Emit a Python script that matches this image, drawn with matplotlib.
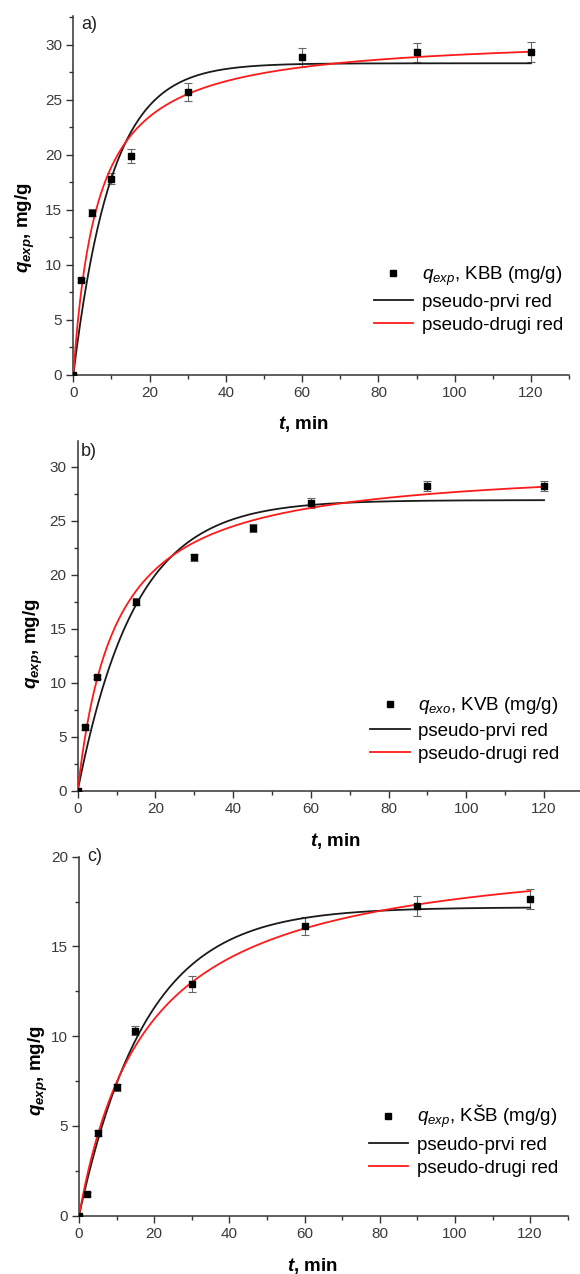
import numpy as np
import matplotlib
matplotlib.use("Agg")
import matplotlib.pyplot as plt
from matplotlib.ticker import MultipleLocator

plt.rcParams['font.family'] = ['Liberation Sans', 'DejaVu Sans']
plt.rcParams['mathtext.fontset'] = 'custom'
plt.rcParams['mathtext.rm'] = 'Liberation Sans'
plt.rcParams['mathtext.it'] = 'Liberation Sans:italic'
plt.rcParams['mathtext.bf'] = 'Liberation Sans:bold'
plt.rcParams['mathtext.bfit'] = 'Liberation Sans:bold:italic'

# time points (min)
t_a = [0, 2, 5, 10, 15, 30, 60, 90, 120]
t_b = [0, 2, 5, 15, 30, 45, 60, 90, 120]
t_c = [0, 2, 5, 10, 15, 30, 60, 90, 120]

# experimental q (mg/g) and error bars
q_a = [0, 8.6, 14.75, 17.8, 19.9, 25.7, 28.85, 29.3, 29.35]
err_a = [0, 0.2, 0.3, 0.5, 0.65, 0.8, 0.85, 0.85, 0.9]
q_b = [0, 5.85, 10.5, 17.5, 21.6, 24.3, 26.6, 28.2, 28.2]
err_b = [0, 0.2, 0.2, 0.3, 0.35, 0.4, 0.45, 0.5, 0.5]
q_c = [0, 1.2, 4.6, 7.15, 10.3, 12.9, 16.15, 17.25, 17.65]
err_c = [0, 0.1, 0.15, 0.2, 0.25, 0.45, 0.5, 0.55, 0.55]

# fitted kinetic parameters
qe1 = [28.3, 26.9, 17.18]        # pseudo-first order qe
k1 = [0.10, 0.068, 0.056]        # 1/min
qe2 = [30.9, 30.4, 20.8]         # pseudo-second order qe
k2 = [0.0051, 0.0034, 0.00267]   # g/(mg min)

names = ['KBB', 'KVB', 'KŠB']
subs = ['exp', 'exo', 'exp']
letters = ['a)', 'b)', 'c)']
ylims = [32.6, 32.4, 20]
ymajor = [5, 5, 5]

# axes rectangles in figure fractions
rects = [[0.1264, 0.7057, 0.8548, 0.2818],
         [0.1340, 0.3794, 0.8710, 0.2747],
         [0.1362, 0.0458, 0.8426, 0.2818]]
ylab_pos = [(-0.073, 0.41), (-0.065, 0.42), (-0.060, 0.405)]
xlab_pos = [(0.465, -0.109), (0.51, -0.115), (0.478, -0.112)]
leg_pos = [(0.606, 0.308), (0.579, 0.272), (0.593, 0.313)]
let_pos = [(0.016, 0.975), (0.007, 0.969), (0.016, 1.0)]

t_all = [t_a, t_b, t_c]
q_all = [q_a, q_b, q_c]
e_all = [err_a, err_b, err_c]

fig = plt.figure(figsize=(5.8, 12.74), dpi=100)
tt = np.linspace(0, 120, 400)

for i in range(3):
    ax = fig.add_axes(rects[i])
    ax.errorbar(t_all[i], q_all[i], yerr=e_all[i], fmt='none', ecolor='#666666',
                elinewidth=0.8, capsize=3, capthick=0.8, zorder=2)
    ax.plot(t_all[i], q_all[i], 's', color='black', markersize=5, zorder=4,
            label=r'$q_{%s}$, %s (mg/g)' % (subs[i], names[i]))
    pfo = qe1[i] * (1 - np.exp(-k1[i] * tt))
    pso = qe2[i] ** 2 * k2[i] * tt / (1 + qe2[i] * k2[i] * tt)
    ax.plot(tt, pfo, color='#1a1a1a', lw=1.3, zorder=3, label='pseudo-prvi red')
    ax.plot(tt, pso, color='#ff1a1a', lw=1.3, zorder=3, label='pseudo-drugi red')

    ax.set_xlim(0, 130)
    ax.set_ylim(0, ylims[i])
    ax.xaxis.set_major_locator(MultipleLocator(20))
    ax.xaxis.set_minor_locator(MultipleLocator(10))
    ax.yaxis.set_major_locator(MultipleLocator(ymajor[i]))
    ax.yaxis.set_minor_locator(MultipleLocator(ymajor[i] / 2))
    for s in ['top', 'right']:
        ax.spines[s].set_visible(False)
    for s in ['left', 'bottom']:
        ax.spines[s].set_color('#333333')
        ax.spines[s].set_linewidth(1.1)
    ax.tick_params(which='major', direction='out', length=5, width=1.0,
                   color='#333333', labelsize=11, labelcolor='#3a3a3a', pad=3)
    ax.tick_params(which='minor', direction='out', length=3, width=1.0, color='#333333')

    ax.set_ylabel(r'$\mathbfit{q}_{\mathbfit{exp}}$, mg/g', fontsize=13.5, fontweight='bold')
    ax.yaxis.set_label_coords(*ylab_pos[i])
    ax.set_xlabel(r'$\mathbfit{t}$, min', fontsize=13.5, fontweight='bold')
    ax.xaxis.set_label_coords(*xlab_pos[i])

    ax.text(let_pos[i][0], let_pos[i][1], letters[i], transform=ax.transAxes,
            fontsize=13, va='center', ha='left', color='#222222')

    ax.legend(loc='upper left', bbox_to_anchor=leg_pos[i], frameon=False,
              borderpad=0, borderaxespad=0, handlelength=2.1, handletextpad=0.45,
              labelspacing=0.32, fontsize=13.5, numpoints=1)

fig.savefig('out.png', dpi=100)
